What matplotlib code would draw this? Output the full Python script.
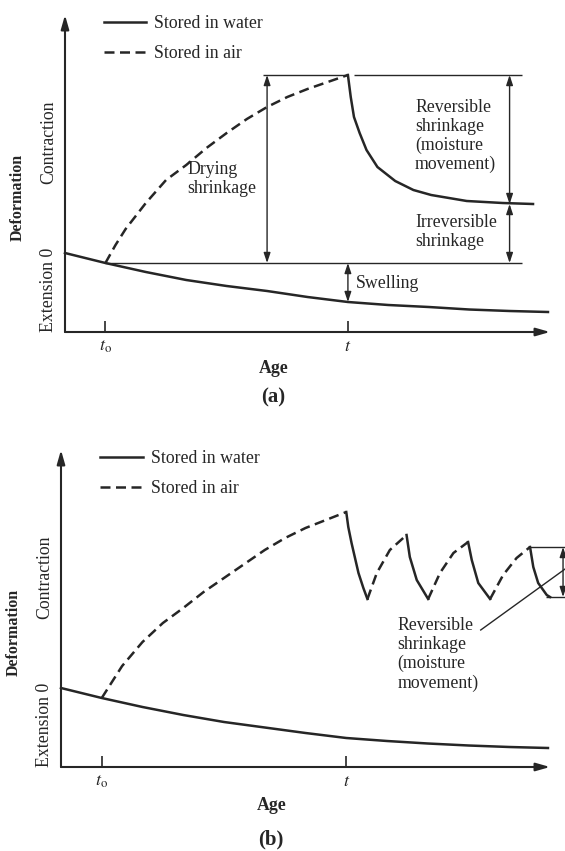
import matplotlib.pyplot as plt

plt.rcParams['font.family'] = ['Liberation Serif', 'DejaVu Serif']
plt.rcParams['mathtext.fontset'] = 'stix'

ink = '#262626'
dash = (0, (4, 2.2))

# ages: t_o = 1, t = 7 (arbitrary units), deformation: contraction positive
t0, t = 1, 7
age = [0, 1, 2, 3, 4, 5, 6, 7, 8, 9, 10, 11, 11.95]

# (a)
water_a = [0, -1.0, -1.9, -2.7, -3.3, -3.8, -4.4, -4.9, -5.2, -5.4, -5.65, -5.8, -5.9]
air_a_age = [1, 1.25, 1.5, 2, 2.5, 3, 3.5, 4, 4.5, 5, 5.5, 6, 6.5, 7]
air_a = [-1.0, 0.8, 2.4, 5.0, 7.3, 8.8, 10.5, 12.0, 13.4, 14.6, 15.6, 16.4, 17.1, 17.8]
rewet_a_age = [7.0, 7.07, 7.15, 7.29, 7.46, 7.73, 8.17, 8.62, 9.06, 9.94, 10.83, 11.58]
rewet_a = [17.8, 15.6, 13.6, 12.0, 10.3, 8.6, 7.2, 6.3, 5.8, 5.2, 5.0, 4.9]

# (b)
water_b = [0, -1.0, -1.9, -2.7, -3.4, -3.95, -4.5, -5.0, -5.3, -5.55, -5.75, -5.9, -6.0]
air_b_age = [1, 1.25, 1.5, 2, 2.5, 3, 3.5, 4, 4.5, 5, 5.5, 6, 6.5, 7]
air_b = [-1.0, 0.6, 2.2, 4.6, 6.5, 8.0, 9.6, 11.0, 12.4, 13.8, 15.0, 16.0, 16.8, 17.6]
cycle_age = [7.0, 7.05, 7.13, 7.30, 7.42, 7.52, 7.75, 8.07, 8.48, 8.56, 8.73, 9.01,
             9.30, 9.63, 9.99, 10.08, 10.24, 10.53, 10.85, 11.18, 11.51, 11.59, 11.71,
             11.92, 12.0]
cycle_b = [17.6, 16.1, 14.5, 11.5, 10.0, 8.9, 11.5, 13.8, 15.3, 13.1, 10.8, 8.9,
           11.5, 13.5, 14.6, 12.8, 10.5, 8.9, 11.3, 13.0, 14.1, 12.1, 10.5, 9.3, 9.1]
cycle_turns = [0, 5, 8, 11, 14, 17, 20, 24]  # wetting (solid) / drying (dashed) alternate

fs = 12.8


def arrow(ax, x0, y0, x1, y1, style='<|-|>'):
    ax.annotate('', xy=(x1, y1), xytext=(x0, y0),
                arrowprops=dict(arrowstyle=style + ',head_length=0.6,head_width=0.2',
                                color=ink, lw=1.0, shrinkA=0, shrinkB=0,
                                mutation_scale=10), annotation_clip=False)


def setup(ax, xlab_y, letter, letter_y):
    ax.set_xlim(0, 12)
    ax.set_ylim(-7.9, 23.8)
    for s in ax.spines.values():
        s.set_visible(False)
    ax.annotate('', xy=(1, 0), xytext=(0, 0), xycoords='axes fraction',
                arrowprops=dict(arrowstyle='-|>,head_length=0.7,head_width=0.2',
                                color=ink, lw=1.5, shrinkA=0, shrinkB=0, mutation_scale=12))
    ax.annotate('', xy=(0, 1), xytext=(0, 0), xycoords='axes fraction',
                arrowprops=dict(arrowstyle='-|>,head_length=0.7,head_width=0.2',
                                color=ink, lw=1.5, shrinkA=0, shrinkB=0, mutation_scale=12))
    ax.set_yticks([])
    ax.set_xticks([t0, t], [r'$t_\mathrm{o}$', r'$t$'])
    ax.tick_params(axis='x', direction='in', length=8, width=1.2, pad=4,
                   labelsize=13, colors=ink)
    ax.set_xlabel('Age', fontweight='bold', fontsize=fs, color=ink, va='center')
    ax.xaxis.set_label_coords(0.43, xlab_y)
    ax.text(0.43, letter_y, letter, transform=ax.transAxes, ha='center', va='center',
            fontweight='bold', fontsize=15, color=ink)
    ax.text(-0.097, 0.426, 'Deformation', transform=ax.transAxes, rotation=90,
            ha='center', va='center', fontweight='bold', fontsize=11.5, color=ink)
    ax.text(-0.033, 0.6, 'Contraction', transform=ax.transAxes, rotation=90,
            ha='center', va='center', fontsize=fs, color=ink)
    ax.text(-0.033, 0.0, 'Extension 0', transform=ax.transAxes, rotation=90,
            ha='center', va='bottom', fontsize=fs, color=ink)
    ax.legend(loc='upper left', bbox_to_anchor=(0.08, 1.0), frameon=False,
              handlelength=2.4, handletextpad=0.45, labelspacing=0.75,
              borderpad=0, borderaxespad=0, fontsize=fs, labelcolor=ink)


fig = plt.figure(figsize=(5.65, 8.51), dpi=100)
ax_a = fig.add_axes([0.11504, 0.60987, 0.85841, 0.37250])
ax_b = fig.add_axes([0.10796, 0.09871, 0.86549, 0.37250])

# ---- (a)
ax_a.plot(age, water_a, color=ink, lw=1.8, label='Stored in water', clip_on=False)
ax_a.plot(air_a_age, air_a, color=ink, lw=1.8, ls=dash, label='Stored in air')
ax_a.plot(rewet_a_age, rewet_a, color=ink, lw=1.8)

top, base, irr = air_a[-1], air_a[0], rewet_a[-1]
ax_a.hlines(top, 4.9, 7.0, color=ink, lw=1.0)
ax_a.hlines(top, 7.15, 11.3, color=ink, lw=1.0)
ax_a.hlines(base, t0, 11.3, color=ink, lw=1.0)
arrow(ax_a, 5.0, base, 5.0, top)
arrow(ax_a, 11.0, top, 11.0, irr)
arrow(ax_a, 11.0, irr, 11.0, base)
arrow(ax_a, t, base, t, water_a[7])

ax_a.text(3.02, 7.4, 'Drying\nshrinkage', ha='left', va='center', fontsize=fs,
          color=ink, linespacing=1.15)
ax_a.text(8.66, 11.7, 'Reversible\nshrinkage\n(moisture\nmovement)', ha='left',
          va='center', fontsize=fs, color=ink, linespacing=1.15)
ax_a.text(8.66, 2.1, 'Irreversible\nshrinkage', ha='left', va='center', fontsize=fs,
          color=ink, linespacing=1.15)
ax_a.text(7.2, -3.0, 'Swelling', ha='left', va='center', fontsize=fs, color=ink)
setup(ax_a, -0.114, '(a)', -0.205)

# ---- (b)
ax_b.plot(age, water_b, color=ink, lw=1.8, label='Stored in water', clip_on=False)
ax_b.plot(air_b_age, air_b, color=ink, lw=1.8, ls=dash, label='Stored in air')
for k in range(len(cycle_turns) - 1):
    i, j = cycle_turns[k], cycle_turns[k + 1]
    ax_b.plot(cycle_age[i:j + 1], cycle_b[i:j + 1], color=ink, lw=1.8,
              ls='-' if k % 2 == 0 else dash, clip_on=False)

hi, lo = cycle_b[cycle_turns[-2]], cycle_b[-1]
ax_b.hlines(hi, 11.5, 12.4, color=ink, lw=1.0, clip_on=False)
ax_b.hlines(lo, 11.9, 12.4, color=ink, lw=1.0, clip_on=False)
arrow(ax_b, 12.32, hi, 12.32, lo)
ax_b.plot([10.3, 12.37], [5.8, 11.9], color=ink, lw=1.0, clip_on=False)
ax_b.text(8.25, 3.35, 'Reversible\nshrinkage\n(moisture\nmovement)', ha='left',
          va='center', fontsize=fs, color=ink, linespacing=1.15)
setup(ax_b, -0.12, '(b)', -0.23)

fig.savefig('out.png', dpi=100, facecolor='white')
